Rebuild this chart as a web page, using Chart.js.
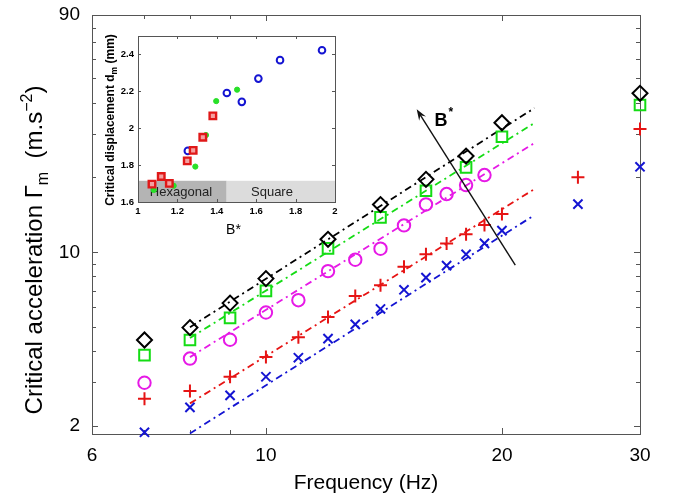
<!DOCTYPE html>
<html><head><meta charset="utf-8">
<script src="https://cdn.jsdelivr.net/npm/chart.js@4"></script>
<style>
html,body{margin:0;padding:0;background:#fff;}
#wrap{position:relative;width:673px;height:494px;overflow:hidden;}
#main{position:absolute;left:0;top:0;width:673px;height:494px;}
#inset{position:absolute;left:90px;top:20px;width:260px;height:220px;}
</style></head><body>
<div id="wrap"><canvas id="main" width="673" height="494"></canvas><canvas id="inset" width="260" height="220"></canvas></div>
<script>
// ---------- main chart data ----------
const freqDiamond = [7, 8, 9, 10, 12, 14, 16, 18, 20, 30];
const valDiamond  = [4.44, 4.98, 6.25, 7.84, 11.28, 15.56, 19.65, 24.38, 33.19, 43.58];
const freqSquare  = [7, 8, 9, 10, 12, 14, 16, 18, 20, 30];
const valSquare   = [3.86, 4.44, 5.45, 7.0, 10.37, 13.82, 17.68, 21.96, 29.15, 39.1];
const freqCircle  = [7, 8, 9, 10, 11, 12, 13, 14, 15, 16, 17, 18, 19];
const valCircle   = [2.99, 3.74, 4.45, 5.73, 6.42, 8.40, 9.34, 10.34, 12.83, 15.58, 17.15, 18.64, 20.45];
const freqPlus    = [7, 8, 9, 10, 11, 12, 13, 14, 15, 16, 17, 18, 19, 20, 25, 30];
const valPlus     = [2.58, 2.77, 3.16, 3.79, 4.56, 5.50, 6.67, 7.38, 8.74, 9.83, 10.86, 11.82, 12.87, 14.25, 20.03, 31.3];
const freqCross   = [7, 8, 9, 10, 11, 12, 13, 14, 15, 16, 17, 18, 19, 20, 25, 30];
const valCross    = [1.89, 2.38, 2.66, 3.16, 3.77, 4.50, 5.13, 5.92, 7.07, 7.91, 8.84, 9.82, 10.86, 12.23, 15.62, 22.08];
// power-law fit lines (end points)
const fitFreq    = [8, 22];
const fitBlack   = [5.0, 38.0];
const fitGreen   = [4.52, 33.1];
const fitMagenta = [3.79, 27.5];
const fitRed     = [2.47, 17.96];
const fitBlue    = [1.87, 14.11];
// axes
const xTickValues = [6, 7, 8, 9, 10, 20, 30];
const xTickLabels = [6, 10, 20, 30];
const yTickValues = [2, 3, 4, 5, 6, 7, 8, 9, 10, 20, 30, 40, 50, 60, 70, 80, 90];
const yTickLabels = [2, 10, 90];
// arrow annotation (data coords)
const arrowFrom = {x: 20.8, y: 8.88};
const arrowTo   = {x: 15.57, y: 37.6};
const arrowLabelAt = {x: 16.75, y: 34.0};

// ---------- inset data ----------
const insetBlueX  = [1.253, 1.451, 1.527, 1.611, 1.721, 1.934];
const insetBlueY  = [1.877, 2.191, 2.143, 2.269, 2.369, 2.423];
const insetRedX   = [1.071, 1.118, 1.159, 1.250, 1.280, 1.329, 1.380];
const insetRedY   = [1.697, 1.738, 1.701, 1.823, 1.880, 1.951, 2.067];
const insetGreenX = [1.080, 1.181, 1.291, 1.345, 1.397, 1.503];
const insetGreenY = [1.665, 1.688, 1.792, 1.963, 2.147, 2.209];
const insetXTicks = [1, 1.2, 1.4, 1.6, 1.8, 2];
const insetYTicks = [1.6, 1.8, 2, 2.2, 2.4];
const hexBand = {x0: 1, x1: 1.45, y0: 1.6, y1: 1.715};
const sqBand  = {x0: 1.45, x1: 2, y0: 1.6, y1: 1.715};

const FONT = '"Liberation Sans", Arial, Helvetica, sans-serif';
const AXIS = '#555';
const toPts = (xs, ys) => xs.map((x, i) => ({x: x, y: ys[i]}));

function scatterDs(xs, ys, style, color, radius) {
  return {type: 'scatter', data: toPts(xs, ys), pointStyle: style, borderColor: color,
    backgroundColor: 'rgba(0,0,0,0)', pointRadius: radius, pointBorderWidth: 2,
    pointHoverRadius: radius, showLine: false, clip: false};
}
function fitDs(ys, color) {
  return {type: 'line', data: toPts(fitFreq, ys), borderColor: color, borderWidth: 1.8,
    borderDash: [7, 4, 2, 4], pointRadius: 0, fill: false, tension: 0};
}

const mainPlugin = {
  id: 'mainDeco',
  beforeDraw(chart) {
    const c = chart.ctx;
    c.save(); c.fillStyle = '#fff'; c.fillRect(0, 0, chart.width, chart.height); c.restore();
  },
  beforeDatasetsDraw(chart) {
    const c = chart.ctx, a = chart.chartArea, sx = chart.scales.x, sy = chart.scales.y;
    c.save();
    c.strokeStyle = AXIS; c.lineWidth = 1;
    c.strokeRect(a.left + 0.5, a.top + 0.5, a.right - a.left, a.bottom - a.top);
    c.beginPath();
    xTickValues.forEach(v => {
      const px = Math.round(sx.getPixelForValue(v)) + 0.5;
      const L = xTickLabels.includes(v) ? 6 : 4;
      c.moveTo(px, a.bottom); c.lineTo(px, a.bottom - L);
      c.moveTo(px, a.top); c.lineTo(px, a.top + L);
    });
    yTickValues.forEach(v => {
      const py = Math.round(sy.getPixelForValue(v)) + 0.5;
      const L = yTickLabels.includes(v) ? 6 : 4;
      c.moveTo(a.left, py); c.lineTo(a.left + L, py);
      c.moveTo(a.right, py); c.lineTo(a.right - L, py);
    });
    c.stroke();
    c.restore();
  },
  afterDatasetsDraw(chart) {
    const c = chart.ctx, a = chart.chartArea, sx = chart.scales.x, sy = chart.scales.y;
    c.save();
    // arrow
    const x1 = sx.getPixelForValue(arrowFrom.x), y1 = sy.getPixelForValue(arrowFrom.y);
    const x2 = sx.getPixelForValue(arrowTo.x), y2 = sy.getPixelForValue(arrowTo.y);
    const ang = Math.atan2(y2 - y1, x2 - x1);
    c.strokeStyle = '#111'; c.lineWidth = 1.4;
    c.beginPath(); c.moveTo(x1, y1); c.lineTo(x2 - 6 * Math.cos(ang), y2 - 6 * Math.sin(ang)); c.stroke();
    c.fillStyle = '#111';
    c.beginPath();
    c.moveTo(x2, y2);
    c.lineTo(x2 - 11 * Math.cos(ang) + 4 * Math.sin(ang), y2 - 11 * Math.sin(ang) - 4 * Math.cos(ang));
    c.lineTo(x2 - 7 * Math.cos(ang), y2 - 7 * Math.sin(ang));
    c.lineTo(x2 - 11 * Math.cos(ang) - 4 * Math.sin(ang), y2 - 11 * Math.sin(ang) + 4 * Math.cos(ang));
    c.closePath(); c.fill();
    // B* label
    const bx = sx.getPixelForValue(arrowLabelAt.x), by = sy.getPixelForValue(arrowLabelAt.y);
    c.fillStyle = '#000';
    c.font = 'bold 18px ' + FONT; c.textAlign = 'left'; c.textBaseline = 'alphabetic';
    c.fillText('B', bx - 7, by + 6);
    const bw = c.measureText('B').width;
    c.font = 'bold 12px ' + FONT;
    c.fillText('*', bx - 7 + bw + 1, by - 4);
    // x title
    c.font = '21px ' + FONT; c.textAlign = 'center';
    c.fillText('Frequency (Hz)', (a.left + a.right) / 2, 489);
    // y title with sub/superscripts
    const parts = [
      ['Critical acceleration \u0393', 24, 0],
      ['m', 16, 6],
      ['  (m.s', 24, 0],
      ['\u22122', 16, -10],
      [')', 24, 0]
    ];
    let total = 0;
    parts.forEach(p => { c.font = p[1] + 'px ' + FONT; p.push(c.measureText(p[0]).width); total += p[3]; });
    c.translate(42, 250); c.rotate(-Math.PI / 2);
    c.textAlign = 'left';
    let cx = -total / 2;
    parts.forEach(p => { c.font = p[1] + 'px ' + FONT; c.fillText(p[0], cx, p[2]); cx += p[3]; });
    c.restore();
  }
};

new Chart(document.getElementById('main'), {
  data: {
    datasets: [
      scatterDs(freqDiamond, valDiamond, 'rectRot', '#000000', 7.5),
      scatterDs(freqSquare, valSquare, 'rect', '#14dc14', 7.5),
      scatterDs(freqCircle, valCircle, 'circle', '#e619e6', 6.2),
      scatterDs(freqPlus, valPlus, 'cross', '#e61414', 6.5),
      scatterDs(freqCross, valCross, 'crossRot', '#1414d2', 6.5),
      fitDs(fitBlack, '#000000'),
      fitDs(fitGreen, '#14dc14'),
      fitDs(fitMagenta, '#e619e6'),
      fitDs(fitRed, '#e61414'),
      fitDs(fitBlue, '#1414d2')
    ]
  },
  options: {
    responsive: false, animation: false, devicePixelRatio: 1,
    layout: {padding: {left: 0, right: 33, top: 15, bottom: 0}},
    plugins: {legend: {display: false}, tooltip: {enabled: false}},
    scales: {
      x: {type: 'logarithmic', position: 'bottom', min: 6, max: 30,
        afterBuildTicks: s => { s.ticks = xTickValues.map(v => ({value: v})); },
        afterFit: s => { s.height = 60; s.paddingLeft = 0; s.paddingRight = 0; },
        ticks: {autoSkip: false, maxRotation: 0, padding: 10, color: '#000', font: {family: FONT, size: 19},
          callback: v => xTickLabels.includes(v) ? String(v) : ''},
        grid: {display: false, drawTicks: false}, border: {display: false}},
      y: {type: 'logarithmic', position: 'left', min: 1.86, max: 90,
        afterBuildTicks: s => { s.ticks = yTickValues.map(v => ({value: v})); },
        afterFit: s => { s.width = 92; s.paddingTop = 0; s.paddingBottom = 0; },
        ticks: {autoSkip: false, padding: 12, color: '#000', font: {family: FONT, size: 19},
          callback: v => yTickLabels.includes(v) ? String(v) : ''},
        grid: {display: false, drawTicks: false}, border: {display: false}}
    }
  },
  plugins: [mainPlugin]
});

// ---------- inset ----------
const insetPlugin = {
  id: 'insetDeco',
  beforeDatasetsDraw(chart) {
    const c = chart.ctx, a = chart.chartArea, sx = chart.scales.x, sy = chart.scales.y;
    c.save();
    c.fillStyle = '#fff'; c.fillRect(a.left, a.top, a.right - a.left, a.bottom - a.top);
    const band = (b, col) => {
      const x0 = sx.getPixelForValue(b.x0), x1 = sx.getPixelForValue(b.x1);
      const y0 = sy.getPixelForValue(b.y0), y1 = sy.getPixelForValue(b.y1);
      c.fillStyle = col; c.fillRect(x0, y1, x1 - x0, y0 - y1);
    };
    band(hexBand, '#b4b4b4');
    band(sqBand, '#dcdcdc');
    c.fillStyle = '#222'; c.font = '13px ' + FONT; c.textAlign = 'center'; c.textBaseline = 'middle';
    const ty = sy.getPixelForValue((hexBand.y0 + hexBand.y1) / 2) + 1;
    c.fillText('Hexagonal', sx.getPixelForValue(1.218), ty);
    c.fillText('Square', sx.getPixelForValue(1.68), ty);
    c.restore();
  },
  afterDatasetsDraw(chart) {
    const c = chart.ctx, a = chart.chartArea, sx = chart.scales.x, sy = chart.scales.y;
    c.save();
    c.strokeStyle = AXIS; c.lineWidth = 1;
    c.strokeRect(Math.round(a.left) + 0.5, Math.round(a.top) + 0.5, Math.round(a.right - a.left), Math.round(a.bottom - a.top));
    c.beginPath();
    insetXTicks.forEach(v => {
      const px = Math.round(sx.getPixelForValue(v)) + 0.5;
      c.moveTo(px, a.bottom); c.lineTo(px, a.bottom - 3);
      c.moveTo(px, a.top); c.lineTo(px, a.top + 3);
    });
    insetYTicks.forEach(v => {
      const py = Math.round(sy.getPixelForValue(v)) + 0.5;
      c.moveTo(a.left, py); c.lineTo(a.left + 3, py);
      c.moveTo(a.right, py); c.lineTo(a.right - 3, py);
    });
    c.stroke();
    // titles
    c.fillStyle = '#000';
    c.font = '14px ' + FONT; c.textAlign = 'center'; c.textBaseline = 'alphabetic';
    c.fillText('B*', (a.left + a.right) / 2 - 3, 214);
    const parts = [['Critical displacement d', 12, 0], ['m', 8.5, 3], [' (mm)', 12, 0]];
    let total = 0;
    parts.forEach(p => { c.font = 'bold ' + p[1] + 'px ' + FONT; p.push(c.measureText(p[0]).width); total += p[3]; });
    c.translate(24, 100); c.rotate(-Math.PI / 2);
    c.textAlign = 'left';
    let cx = -total / 2;
    parts.forEach(p => { c.font = 'bold ' + p[1] + 'px ' + FONT; c.fillText(p[0], cx, p[2]); cx += p[3]; });
    c.restore();
  }
};

new Chart(document.getElementById('inset'), {
  type: 'scatter',
  data: {
    datasets: [
      {data: toPts(insetRedX, insetRedY), pointStyle: 'rect', borderColor: '#e01818', backgroundColor: '#f5a0a0',
        pointRadius: 4.6, pointBorderWidth: 2.4, clip: false},
      {data: toPts(insetGreenX, insetGreenY), pointStyle: 'circle', borderColor: '#28e028', backgroundColor: '#28e028',
        pointRadius: 2.6, pointBorderWidth: 1, clip: false},
      {data: toPts(insetBlueX, insetBlueY), pointStyle: 'circle', borderColor: '#1414d2', backgroundColor: 'rgba(255,255,255,0)',
        pointRadius: 3.3, pointBorderWidth: 2, clip: false}
    ]
  },
  options: {
    responsive: false, animation: false, devicePixelRatio: 1,
    layout: {padding: {left: 0, right: 15, top: 16, bottom: 0}},
    plugins: {legend: {display: false}, tooltip: {enabled: false}},
    scales: {
      x: {type: 'linear', min: 1, max: 2,
        afterBuildTicks: s => { s.ticks = insetXTicks.map(v => ({value: v})); },
        afterFit: s => { s.height = 38; s.paddingLeft = 0; s.paddingRight = 0; },
        ticks: {autoSkip: false, maxRotation: 0, padding: 4, color: '#000', font: {family: FONT, size: 9.5, weight: 'bold'},
          callback: v => String(+v.toFixed(1))},
        grid: {display: false, drawTicks: false}, border: {display: false}},
      y: {type: 'linear', min: 1.6, max: 2.5,
        afterBuildTicks: s => { s.ticks = insetYTicks.map(v => ({value: v})); },
        afterFit: s => { s.width = 48; s.paddingTop = 0; s.paddingBottom = 0; },
        ticks: {autoSkip: false, padding: 4, color: '#000', font: {family: FONT, size: 9.5, weight: 'bold'},
          callback: v => String(+v.toFixed(1))},
        grid: {display: false, drawTicks: false}, border: {display: false}}
    }
  },
  plugins: [insetPlugin]
});
</script>
</body></html>
